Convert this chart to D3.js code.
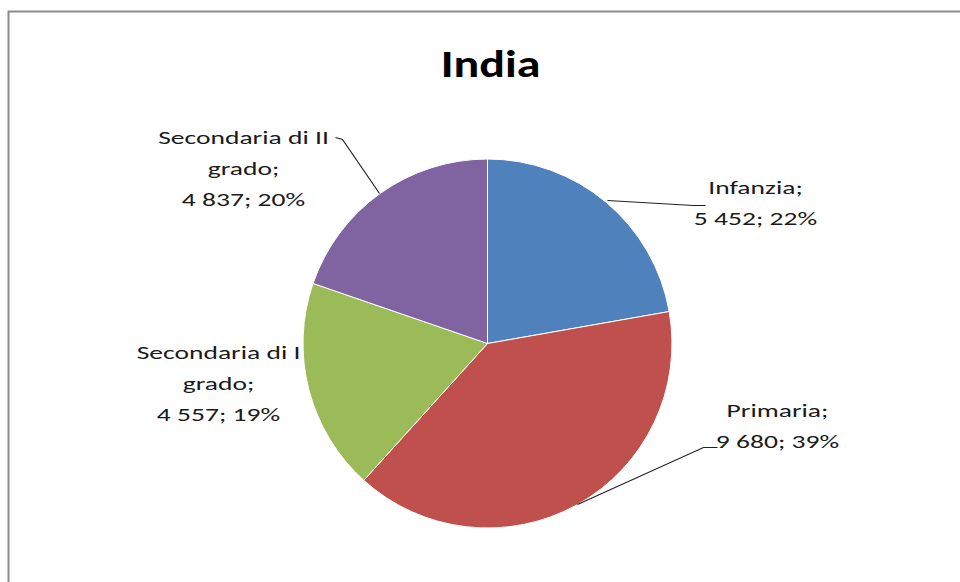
<!DOCTYPE html>
<html>
<head>
<meta charset="utf-8">
<script src="https://cdn.jsdelivr.net/npm/d3@7"></script>
<style>
  html, body { margin: 0; padding: 0; background: #fff; }
  svg { display: block; }
  text { font-family: Carlito, "Liberation Sans Narrow", "Open Sans", sans-serif; fill: #1a1a1a; }
</style>
</head>
<body>
<svg id="chart" width="960" height="582"></svg>
<script>
// Students by school level
const title = "India";
const categories = ["Infanzia", "Primaria", "Secondaria di I grado", "Secondaria di II grado"];
const values = [5452, 9680, 4557, 4837];
const colors = ["#4F81BD", "#C0504D", "#9BBB59", "#8064A2"];

// label text broken into lines, one entry per slice
const labelLines = [
  ["Infanzia;", "5 452; 22%"],
  ["Primaria;", "9 680; 39%"],
  ["Secondaria di I", "grado;", "4 557; 19%"],
  ["Secondaria di II", "grado;", "4 837; 20%"]
];

const W = 960, H = 582;
const cx = 487.5, cy = 343.5, R = 184.5;

const svg = d3.select("#chart");

// chart area frame
svg.append("rect")
  .attr("x", 8.5).attr("y", 11.5)
  .attr("width", W + 10).attr("height", H + 10)
  .attr("fill", "#fff")
  .attr("stroke", "#8c8c8c").attr("stroke-width", 2);

// title, widened to the chart's broad lettering
svg.append("g")
  .attr("transform", "translate(490.5,77) scale(1.23,1)")
  .append("text")
  .attr("x", 0).attr("y", 0)
  .attr("text-anchor", "middle")
  .attr("font-size", 39).attr("font-weight", "bold")
  .style("fill", "#000")
  .text(title);

const pie = d3.pie().sort(null).value(d => d);
const arcs = pie(values);
const arc = d3.arc().innerRadius(0).outerRadius(R);

const g = svg.append("g").attr("transform", `translate(${cx},${cy})`);
g.selectAll("path.slice")
  .data(arcs)
  .join("path")
  .attr("class", "slice")
  .attr("d", arc)
  .attr("fill", (d, i) => colors[i])
  .attr("stroke", "#fff")
  .attr("stroke-width", 1);

// label placement: centre of text block, relative to the pie centre
const labelPos = [
  { x: 268, y: -141 },
  { x: 290, y: 82 },
  { x: -269, y: 40 },
  { x: -244, y: -175 }
];
const lineH = 31;
const labelStretch = 1.45;

// leader lines: from slice edge to an elbow, then a short run to the text
const leaders = [
  { edge: [120, -143], elbow: [206, -138], end: [218, -138] },
  { edge: [90, 161], elbow: [216, 104], end: [230, 104] },
  null,
  { edge: [-108, -150], elbow: [-145, -204], end: [-152, -206] }
];

const leaderGroup = g.append("g");
leaders.forEach(l => {
  if (!l) return;
  leaderGroup.append("path")
    .attr("d", d3.line()([l.edge, l.elbow, l.end]))
    .attr("fill", "none")
    .attr("stroke", "#222")
    .attr("stroke-width", 1.2);
});

const labels = g.selectAll("g.lbl")
  .data(arcs)
  .join("g")
  .attr("class", "lbl")
  .attr("transform", (d, i) => `translate(${labelPos[i].x},${labelPos[i].y}) scale(${labelStretch},1)`);

labels.each(function(d, i) {
  const lines = labelLines[i];
  const top = -(lines.length - 1) * lineH / 2;
  d3.select(this).append("text")
    .attr("text-anchor", "middle")
    .attr("font-size", 19)
    .selectAll("tspan")
    .data(lines)
    .join("tspan")
    .attr("x", 0)
    .attr("y", (t, j) => top + j * lineH)
    .attr("dy", "0.35em")
    .text(t => t);
});
</script>
</body>
</html>
